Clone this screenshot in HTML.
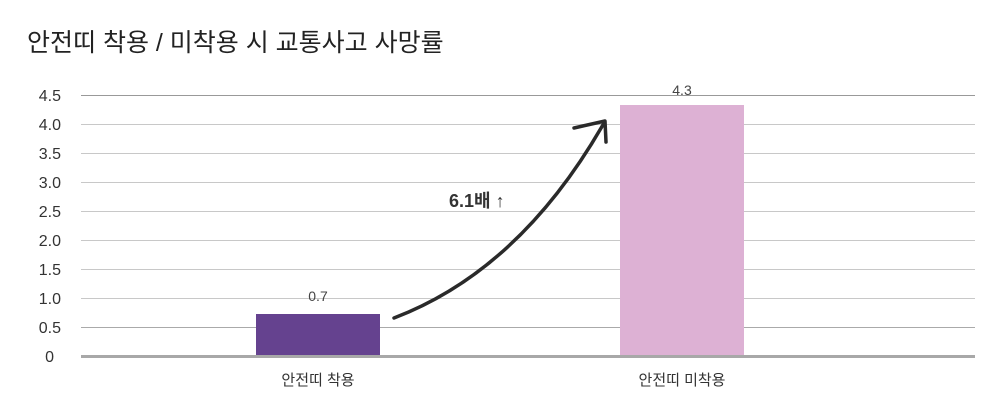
<!DOCTYPE html>
<html><head><meta charset="utf-8"><style>
body{margin:0;background:#fff;}
svg{display:block;font-family:"Liberation Sans","Noto Sans CJK KR",sans-serif;}
</style></head><body>
<svg width="1000" height="412" viewBox="0 0 1000 412">
<text x="27" y="51" font-size="25" fill="#222">안전띠 착용 / 미착용 시 교통사고 사망률</text>
<g stroke="#c8c8c8" stroke-width="1">
<line x1="81" x2="975" y1="95.5" y2="95.5" stroke="#999"/>
<line x1="81" x2="975" y1="124.5" y2="124.5"/>
<line x1="81" x2="975" y1="153.5" y2="153.5"/>
<line x1="81" x2="975" y1="182.5" y2="182.5"/>
<line x1="81" x2="975" y1="211.5" y2="211.5"/>
<line x1="81" x2="975" y1="240.5" y2="240.5"/>
<line x1="81" x2="975" y1="269.5" y2="269.5"/>
<line x1="81" x2="975" y1="298.5" y2="298.5"/>
<line x1="81" x2="975" y1="327.5" y2="327.5" stroke="#aaa"/>
</g>
<g font-size="16" fill="#333" text-anchor="end">
<text x="61" y="101">4.5</text><text x="61" y="130">4.0</text><text x="61" y="159">3.5</text>
<text x="61" y="188">3.0</text><text x="61" y="217">2.5</text><text x="61" y="246">2.0</text>
<text x="61" y="275">1.5</text><text x="61" y="304">1.0</text><text x="61" y="333">0.5</text>
<text x="54" y="362">0</text>
</g>
<rect x="256" y="314" width="124" height="42" fill="#65428f"/>
<rect x="620" y="105" width="124" height="251" fill="#ddb1d4"/>
<line x1="81" x2="975" y1="356.5" y2="356.5" stroke="#a8a8a8" stroke-width="3"/>
<g font-size="14" fill="#444" text-anchor="middle">
<text x="318" y="301">0.7</text><text x="682" y="95">4.3</text>
</g>
<g font-size="15" fill="#333" text-anchor="middle">
<text x="318" y="385">안전띠 착용</text><text x="682" y="385">안전띠 미착용</text>
</g>
<path d="M394 318 Q520 270 604 123" fill="none" stroke="#2a2a2a" stroke-width="3.5" stroke-linecap="round"/>
<path d="M574 128 L605 121 L606 142" fill="none" stroke="#2a2a2a" stroke-width="3.5" stroke-linecap="round" stroke-linejoin="round"/>
<text x="449" y="207" font-size="18" font-weight="bold" fill="#333">6.1배 <tspan font-weight="normal">↑</tspan></text>
</svg>
</body></html>
